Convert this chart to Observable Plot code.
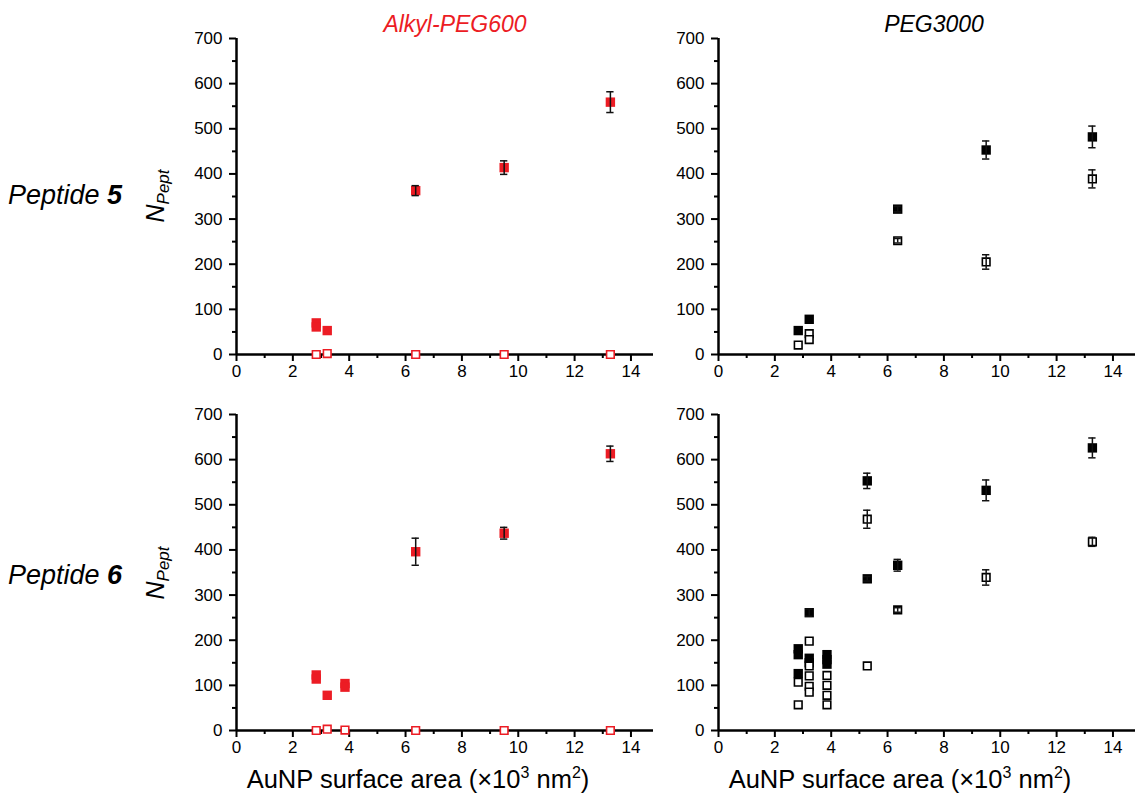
<!DOCTYPE html>
<html>
<head>
<meta charset="utf-8">
<script src="https://cdn.jsdelivr.net/npm/d3@7"></script>
<script src="https://cdn.jsdelivr.net/npm/@observablehq/plot@0.6"></script>
<style>
  html, body { margin: 0; padding: 0; background: #fff; overflow: hidden; }
  body { width: 1136px; height: 798px; position: relative; font-family: "Liberation Sans", Arial, Helvetica, sans-serif; color: #000; }
  .panel { position: absolute; }
  .lbl { position: absolute; transform: translate(-50%, -50%); white-space: nowrap; }
  .ylab { position: absolute; transform: translate(-50%, -50%) rotate(-90deg); white-space: nowrap; font-size: 25px; font-style: italic; }
  .ylab sub { font-size: 17px; vertical-align: -5px; }
  .title { font-size: 23px; font-style: italic; }
  .rowlab { position: absolute; transform: translateY(-50%); font-size: 27px; font-style: italic; white-space: nowrap; }
  .xlab { font-size: 25.5px; }
  .xlab sup { font-size: 16px; vertical-align: 10px; }
</style>
</head>
<body>
<div id="root"></div>
<script>
// ---- data: [surface area (x10^3 nm^2), N_Pept, error] ----
const colTitles = ["Alkyl-PEG600", "PEG3000"];
const rowTitles = ["5", "6"];
const xAxisTitle = "AuNP surface area";
const yMajorTicks = [0, 100, 200, 300, 400, 500, 600, 700];
const yMinorTicks = [50, 150, 250, 350, 450, 550, 650];
const xMajorTicks = [0, 2, 4, 6, 8, 10, 12, 14];
const xMinorTicks = [1, 3, 5, 7, 9, 11, 13];

const alkylP5Filled = [[2.83, 70, 0], [2.83, 61, 0], [3.22, 53, 0], [6.36, 363, 11], [9.50, 414, 15], [13.27, 559, 23]];
const alkylP5Open = [[2.83, 0, 0], [3.22, 2, 0], [6.36, 0, 0], [9.50, 0, 0], [13.27, 0, 0]];
const pegP5Filled = [[2.83, 53, 0], [3.22, 78, 0], [6.36, 322, 6], [9.50, 453, 20], [13.27, 482, 24]];
const pegP5Open = [[2.83, 21, 0], [3.22, 46, 0], [3.22, 33, 0], [6.36, 252, 5], [9.50, 205, 16], [13.27, 389, 20]];
const alkylP6Filled = [[2.83, 123, 0], [2.83, 114, 0], [3.22, 78, 0], [3.85, 104, 0], [3.85, 96, 0], [6.36, 396, 30], [9.50, 437, 13], [13.27, 613, 17]];
const alkylP6Open = [[2.83, 0, 0], [3.22, 3, 0], [3.85, 1, 0], [6.36, 0, 0], [9.50, 0, 0], [13.27, 0, 0]];
const pegP6Filled = [[2.83, 181, 0], [2.83, 168, 0], [2.83, 126, 0], [3.22, 261, 8], [3.22, 160, 0], [3.22, 150, 0],
  [3.85, 168, 0], [3.85, 157, 0], [3.85, 147, 0], [5.28, 553, 17], [5.28, 336, 5], [6.36, 366, 13], [9.50, 532, 23], [13.27, 626, 22]];
const pegP6Open = [[2.83, 107, 0], [2.83, 57, 0], [3.22, 198, 0], [3.22, 143, 0], [3.22, 121, 0], [3.22, 98, 0], [3.22, 85, 0],
  [3.85, 122, 0], [3.85, 100, 0], [3.85, 78, 0], [3.85, 57, 0], [5.28, 468, 20], [5.28, 143, 0], [6.36, 267, 5], [9.50, 339, 17], [13.27, 418, 10]];

const RED = "#ec1c24";
const FONT = '"Liberation Sans", Arial, Helvetica, sans-serif';

function rows(arr) { return arr.map(([x, y, err]) => ({x, y, err})); }

function panel(filled, open, fillColor, strokeColor) {
  const f = rows(filled), o = rows(open);
  const errs = [...f, ...o].filter(d => d.err > 0);
  const cap = 0.13;
  return Plot.plot({
    width: 479, height: 366,
    marginLeft: 60, marginRight: 2, marginTop: 10, marginBottom: 40,
    x: {domain: [0, 14.8]},
    y: {domain: [0, 700]},
    style: {fontFamily: FONT, fontSize: "17px", color: "#000", background: "transparent", overflow: "visible"},
    marks: [
      Plot.axisY({ticks: yMajorTicks, tickSize: 7, tickPadding: 7, strokeWidth: 2, fontSize: 17, label: null, tickFormat: d => String(d)}),
      Plot.axisY({ticks: yMinorTicks, tickSize: 4, strokeWidth: 2, text: null, label: null}),
      Plot.axisX({ticks: xMajorTicks, tickSize: 7, tickPadding: 3, strokeWidth: 2, fontSize: 17, label: null, tickFormat: d => String(d)}),
      Plot.axisX({ticks: xMinorTicks, tickSize: 4, strokeWidth: 2, text: null, label: null}),
      Plot.ruleX([0], {strokeWidth: 2.5}),
      Plot.ruleY([0], {strokeWidth: 2.5}),
      Plot.dot(f, {x: "x", y: "y", symbol: "square", r: 5.3, fill: fillColor, stroke: "none"}),
      Plot.dot(o, {x: "x", y: "y", symbol: "square", r: 4.3, fill: "white", stroke: strokeColor, strokeWidth: 1.6}),
      Plot.ruleX(errs, {x: "x", y1: d => d.y - d.err, y2: d => d.y + d.err, stroke: "#111", strokeWidth: 1.5}),
      Plot.ruleY(errs, {y: d => d.y - d.err, x1: d => d.x - cap, x2: d => d.x + cap, stroke: "#111", strokeWidth: 1.5}),
      Plot.ruleY(errs, {y: d => d.y + d.err, x1: d => d.x - cap, x2: d => d.x + cap, stroke: "#111", strokeWidth: 1.5})
    ]
  });
}

const root = document.getElementById("root");
function place(el, left, top) {
  el.classList.add("panel");
  el.style.left = left + "px";
  el.style.top = top + "px";
  root.appendChild(el);
}
place(panel(alkylP5Filled, alkylP5Open, RED, RED), 176, 28);
place(panel(pegP5Filled, pegP5Open, "#000", "#000"), 658, 28);
place(panel(alkylP6Filled, alkylP6Open, RED, RED), 176, 404);
place(panel(pegP6Filled, pegP6Open, "#000", "#000"), 658, 404);

function addHTML(html, cls, x, y, extra) {
  const d = document.createElement("div");
  d.className = cls;
  d.innerHTML = html;
  d.style.left = x + "px";
  d.style.top = y + "px";
  if (extra) Object.assign(d.style, extra);
  root.appendChild(d);
}
addHTML(colTitles[0], "lbl title", 455, 24, {color: RED});
addHTML(colTitles[1], "lbl title", 934, 24);
addHTML("Peptide <b>" + rowTitles[0] + "</b>", "rowlab", 8, 195);
addHTML("Peptide <b>" + rowTitles[1] + "</b>", "rowlab", 8, 575);
addHTML("N<sub>Pept</sub>", "ylab", 157, 196);
addHTML("N<sub>Pept</sub>", "ylab", 157, 573);
addHTML(xAxisTitle + " (&times;10<sup>3</sup> nm<sup>2</sup>)", "lbl xlab", 418, 779);
addHTML(xAxisTitle + " (&times;10<sup>3</sup> nm<sup>2</sup>)", "lbl xlab", 900, 779);
</script>
</body>
</html>
